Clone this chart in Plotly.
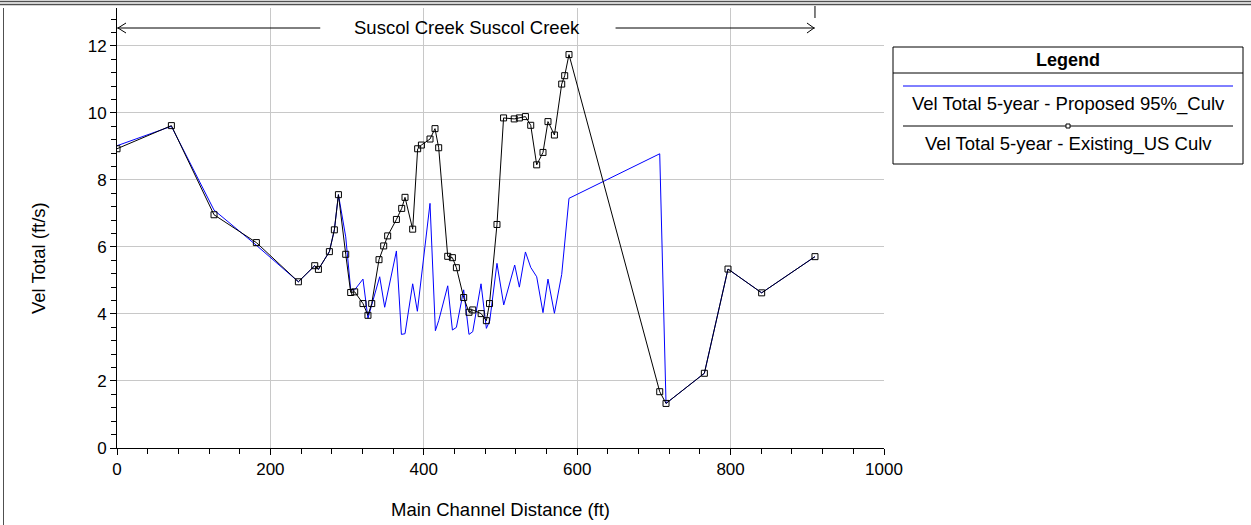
import plotly.graph_objects as go

# ---- data ----
dist_existing = [0, 70.9, 126.5, 181.7, 236.5, 257.8, 262.6, 276.9, 283.4, 288.7,
                 298.2, 304.7, 309.9, 320.7, 327.2, 332.1, 341.6, 347.7, 352.9, 364.3,
                 371.2, 375.5, 385.5, 392.0, 396.9, 408.1, 414.6, 419.4, 431.2, 437.3,
                 442.5, 452.0, 458.9, 463.8, 474.8, 481.6, 485.7, 495.4, 504.0, 517.9,
                 524.6, 532.5, 539.4, 547.2, 555.4, 561.9, 570.3, 579.8, 583.7, 589.3,
                 707.6, 715.8, 765.8, 796.6, 840.5, 910.0]
vel_existing = [8.93, 9.62, 6.96, 6.13, 4.96, 5.44, 5.33, 5.86, 6.51, 7.56,
                5.78, 4.64, 4.66, 4.31, 3.96, 4.31, 5.62, 6.03, 6.33, 6.82,
                7.15, 7.48, 6.53, 8.93, 9.04, 9.22, 9.53, 8.96, 5.72, 5.68,
                5.38, 4.49, 4.05, 4.12, 4.01, 3.80, 4.31, 6.67, 9.85, 9.82,
                9.85, 9.89, 9.63, 8.45, 8.82, 9.74, 9.34, 10.86, 11.11, 11.74,
                1.68, 1.33, 2.23, 5.34, 4.63, 5.71]

dist_proposed = [0, 70.9, 126.5, 181.7, 236.5, 257.8, 262.6, 276.9, 283.4, 288.7,
                 298.2, 304.7, 309.9, 320.7, 327.2, 342.5, 349.0, 364.3, 370.8, 375.5,
                 385.5, 391.6, 408.1, 415.1, 419.4, 431.2, 437.3, 442.5, 452.0, 458.9,
                 463.8, 474.6, 481.6, 486.0, 495.4, 504.2, 518.5, 524.6, 532.5, 539.4,
                 547.2, 555.4, 561.9, 570.3, 579.8, 589.3, 707.6, 715.8, 765.8, 796.6,
                 840.5, 910.0]
vel_proposed = [9.02, 9.60, 7.10, 6.05, 4.96, 5.44, 5.33, 5.86, 6.51, 7.56,
                6.30, 4.72, 4.72, 5.04, 3.87, 5.11, 4.20, 5.88, 3.39, 3.41,
                4.90, 4.08, 7.30, 3.50, 3.80, 4.84, 3.52, 3.60, 4.72, 3.39,
                3.47, 4.90, 3.57, 3.80, 5.51, 4.27, 5.46, 4.80, 5.85, 5.39,
                5.11, 4.04, 5.04, 4.02, 5.18, 7.45, 8.78, 1.33, 2.23, 5.34,
                4.63, 5.71]

series_names = ["Vel Total 5-year - Proposed 95%_Culv",
                "Vel Total 5-year - Existing_US Culv"]
reach_label = "Suscol Creek Suscol Creek"
x_title = "Main Channel Distance (ft)"
y_title = "Vel Total (ft/s)"
reach_end = 910.0

# ---- layout geometry (pixels) ----
W, H = 1251, 525
L, R, T, B = 117, 367, 8, 77
PW, PH = W - L - R, H - T - B


def pxx(x):
    return (x - L) / PW


def pxy(y):
    return (H - B - y) / PH


FONT = "Liberation Sans, Arial, sans-serif"
TITLE_SIZE = 18.5
TICK_SIZE = 17
LEG_SIZE = 18.5

fig = go.Figure()
fig.add_trace(go.Scatter(x=dist_proposed, y=vel_proposed, mode="lines",
                         line=dict(color="#0000ff", width=1),
                         name=series_names[0], showlegend=False))
fig.add_trace(go.Scatter(x=dist_existing, y=vel_existing, mode="lines+markers",
                         line=dict(color="black", width=1),
                         marker=dict(symbol="square-open", size=6,
                                     color="black", line=dict(width=1)),
                         name=series_names[1], showlegend=False))

shapes = []
annotations = []

# outer frame
shapes.append(dict(type="line", xref="paper", yref="paper", x0=pxx(0), x1=pxx(W),
                   y0=pxy(1.5), y1=pxy(1.5), line=dict(color="#505050", width=1.5)))
shapes.append(dict(type="line", xref="paper", yref="paper", x0=pxx(0), x1=pxx(W),
                   y0=pxy(4.5), y1=pxy(4.5), line=dict(color="#505050", width=1.5)))
shapes.append(dict(type="line", xref="paper", yref="paper", x0=pxx(3.5), x1=pxx(3.5),
                   y0=pxy(8), y1=pxy(H), line=dict(color="#505050", width=1)))

# reach arrow
ya = pxy(28)
shapes.append(dict(type="line", xref="x", yref="paper", x0=0, x1=265, y0=ya, y1=ya,
                   line=dict(color="black", width=1)))
shapes.append(dict(type="line", xref="x", yref="paper", x0=650, x1=reach_end, y0=ya, y1=ya,
                   line=dict(color="black", width=1)))
shapes.append(dict(type="path", xref="paper", yref="paper",
                   path=f"M {pxx(126)} {pxy(23)} L {pxx(118)} {pxy(28)} L {pxx(126)} {pxy(33)}",
                   line=dict(color="black", width=1)))
xr = L + reach_end * PW / 1000
shapes.append(dict(type="path", xref="paper", yref="paper",
                   path=f"M {pxx(xr-8)} {pxy(23)} L {pxx(xr-1)} {pxy(28)} L {pxx(xr-8)} {pxy(33)}",
                   line=dict(color="black", width=1)))
shapes.append(dict(type="line", xref="x", yref="paper", x0=reach_end, x1=reach_end,
                   y0=pxy(6), y1=pxy(18), line=dict(color="black", width=1)))
annotations.append(dict(xref="paper", yref="paper", x=pxx(467), y=ya, text=reach_label,
                        showarrow=False, xanchor="center", yanchor="middle",
                        font=dict(size=TITLE_SIZE, family=FONT, color="black")))

# y-axis title
annotations.append(dict(xref="paper", yref="paper", x=pxx(38), y=pxy(258), text=y_title,
                        textangle=-90, showarrow=False, xanchor="center", yanchor="middle",
                        font=dict(size=TITLE_SIZE, family=FONT, color="black")))

# legend box
lx0, lx1, ly0, ly1 = 893, 1243, 47, 164
shapes.append(dict(type="rect", xref="paper", yref="paper", x0=pxx(lx0), x1=pxx(lx1),
                   y0=pxy(ly0), y1=pxy(ly1), line=dict(color="black", width=1),
                   fillcolor="white"))
shapes.append(dict(type="line", xref="paper", yref="paper", x0=pxx(lx0), x1=pxx(lx1),
                   y0=pxy(73), y1=pxy(73), line=dict(color="black", width=1)))
cx = (lx0 + lx1) / 2
annotations.append(dict(xref="paper", yref="paper", x=pxx(cx), y=pxy(60), text="<b>Legend</b>",
                        showarrow=False, xanchor="center", yanchor="middle",
                        font=dict(size=18, family=FONT, color="black")))
shapes.append(dict(type="line", xref="paper", yref="paper", x0=pxx(903), x1=pxx(1233),
                   y0=pxy(86), y1=pxy(86), line=dict(color="#0000ff", width=1)))
annotations.append(dict(xref="paper", yref="paper", x=pxx(cx), y=pxy(104), text=series_names[0],
                        showarrow=False, xanchor="center", yanchor="middle",
                        font=dict(size=LEG_SIZE, family=FONT, color="black")))
shapes.append(dict(type="line", xref="paper", yref="paper", x0=pxx(903), x1=pxx(1233),
                   y0=pxy(126), y1=pxy(126), line=dict(color="black", width=1)))
shapes.append(dict(type="rect", xref="paper", yref="paper", x0=pxx(cx - 2), x1=pxx(cx + 2),
                   y0=pxy(124), y1=pxy(128), line=dict(color="black", width=1),
                   fillcolor="white"))
annotations.append(dict(xref="paper", yref="paper", x=pxx(cx), y=pxy(143.5), text=series_names[1],
                        showarrow=False, xanchor="center", yanchor="middle",
                        font=dict(size=LEG_SIZE, family=FONT, color="black")))

fig.update_layout(
    width=W, height=H,
    margin=dict(l=L, r=R, t=T, b=B, pad=0),
    plot_bgcolor="white", paper_bgcolor="white",
    font=dict(family=FONT, size=TICK_SIZE, color="black"),
    shapes=shapes, annotations=annotations,
    showlegend=False,
    xaxis=dict(range=[0, 1000], tick0=0, dtick=200, showgrid=True, gridcolor="#c8c8c8",
               gridwidth=1, zeroline=False, showline=True, linecolor="black", linewidth=1,
               ticks="outside", ticklen=6, tickcolor="black",
               tickfont=dict(size=TICK_SIZE, family=FONT),
               minor=dict(dtick=40, ticks="outside", ticklen=5, tickcolor="black", showgrid=False),
               title=dict(text=x_title, standoff=24,
                          font=dict(size=TITLE_SIZE, family=FONT))),
    yaxis=dict(range=[0, 13.13], tick0=0, dtick=2, showgrid=True, gridcolor="#c8c8c8",
               gridwidth=1, zeroline=False, showline=True, linecolor="black", linewidth=1,
               ticks="outside", ticklen=6, tickcolor="black",
               tickfont=dict(size=TICK_SIZE, family=FONT),
               minor=dict(dtick=0.4, ticks="outside", ticklen=5, tickcolor="black", showgrid=False)),
)

fig.write_html("out.html", config={"displayModeBar": False},
               post_script="document.body.style.margin='0';document.body.style.padding='0';")
